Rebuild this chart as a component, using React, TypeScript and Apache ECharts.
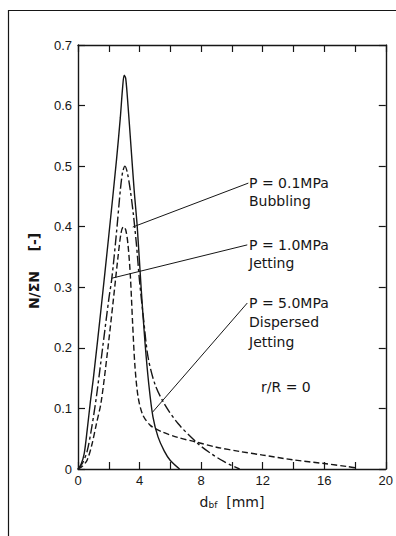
import React, { useEffect, useRef } from "react";
import * as echarts from "echarts";

// Bubble size distributions, r/R = 0 : [d_bf (mm), N/ΣN]
const bubblingData: number[][] = [
  [0, 0], [0.2, 0.008], [0.4, 0.025], [0.6, 0.065], [0.8, 0.11], [1.0, 0.15],
  [1.5, 0.265], [2.0, 0.385], [2.5, 0.51], [2.75, 0.58], [2.9, 0.63], [3.0, 0.65],
  [3.1, 0.645], [3.25, 0.6], [3.45, 0.53], [3.65, 0.46], [3.85, 0.4], [4.1, 0.3],
  [4.35, 0.21], [4.6, 0.14], [4.87, 0.086], [5.2, 0.053], [5.6, 0.03], [6.0, 0.014], [6.6, 0],
];
const jettingData: number[][] = [
  [0, 0], [0.3, 0.01], [0.6, 0.03], [0.9, 0.07], [1.2, 0.12], [1.6, 0.2], [2.0, 0.28],
  [2.2, 0.315], [2.5, 0.39], [2.75, 0.46], [2.9, 0.49], [3.05, 0.5], [3.2, 0.49],
  [3.4, 0.46], [3.6, 0.42], [3.8, 0.37], [4.0, 0.31], [4.25, 0.25], [4.55, 0.185],
  [5.0, 0.14], [5.6, 0.108], [6.5, 0.075], [7.7, 0.044], [8.5, 0.028], [9.5, 0.012], [10.5, 0],
];
const dispersedData: number[][] = [
  [0, 0], [0.3, 0.005], [0.6, 0.015], [0.9, 0.04], [1.2, 0.075], [1.5, 0.11], [1.9, 0.19],
  [2.3, 0.28], [2.6, 0.35], [2.8, 0.39], [2.95, 0.4], [3.1, 0.395], [3.25, 0.37],
  [3.4, 0.32], [3.55, 0.24], [3.7, 0.17], [3.9, 0.12], [4.2, 0.09], [4.7, 0.072],
  [5.4, 0.062], [6.5, 0.052], [7.6, 0.045], [9, 0.036], [10.5, 0.029], [12, 0.023],
  [14, 0.015], [16, 0.009], [17.5, 0.004], [18, 0.002],
];

// leader lines: [label end, curve end] in data units
const leaderLines: number[][][] = [
  [[11.07, 0.472], [3.56, 0.3995]],
  [[11.0, 0.37], [2.2, 0.315]],
  [[11.0, 0.274], [4.85, 0.094]],
];

const xMin = 0, xMax = 20, xStep = 2;
const yMin = 0, yMax = 0.7, yStep = 0.1;

const INK = "#161616";
const NUM_FONT = "'Liberation Sans', Arial, sans-serif";
const ANN_FONT = "'DejaVu Sans', sans-serif";

export default function App() {
  const ref = useRef<HTMLDivElement>(null);
  useEffect(() => {
    if (!ref.current) return;
    const chart = echarts.init(ref.current, null, { renderer: "svg" });
    const axisCommon = {
      axisLine: { show: true, onZero: false, lineStyle: { color: INK, width: 1.4 } },
      axisTick: { show: true, inside: true, length: 7, lineStyle: { color: INK, width: 1.2 } },
      splitLine: { show: false },
    };
    const annText = (x: number, y: number, text: string) => ({
      type: "text", x, y,
      style: { text, fill: INK, font: `14px ${ANN_FONT}`, textAlign: "left", textVerticalAlign: "middle" },
    });
    chart.setOption({
      animation: false,
      backgroundColor: "#fff",
      grid: { left: 78, top: 45, width: 309, height: 424, containLabel: false },
      xAxis: [
        {
          type: "value", min: xMin, max: xMax, interval: xStep, position: "bottom", ...axisCommon,
          axisLabel: {
            color: INK, fontSize: 13, fontFamily: NUM_FONT, margin: 5,
            formatter: (v: number) => (v % 4 === 0 ? String(v) : ""),
          },
        },
        {
          type: "value", min: xMin, max: xMax, interval: xStep, position: "top", ...axisCommon,
          axisLabel: { show: false },
        },
      ],
      yAxis: [
        {
          type: "value", min: yMin, max: yMax, interval: yStep, position: "left", ...axisCommon,
          axisLabel: {
            color: INK, fontSize: 13, fontFamily: NUM_FONT, margin: 6,
            formatter: (v: number) => (v === 0 ? "0" : v.toFixed(1)),
          },
        },
        {
          type: "value", min: yMin, max: yMax, interval: yStep, position: "right", ...axisCommon,
          axisLabel: { show: false },
        },
      ],
      series: [
        {
          type: "line", data: bubblingData, showSymbol: false, smooth: 0.3,
          lineStyle: { color: INK, width: 1.4, type: "solid" },
          markLine: {
            silent: true, symbol: "none", animation: false,
            label: { show: false },
            lineStyle: { color: INK, width: 1, type: "solid" },
            data: leaderLines.map(([a, b]) => [{ coord: a }, { coord: b }]),
          },
        },
        {
          type: "line", data: jettingData, showSymbol: false, smooth: 0.3,
          lineStyle: { color: INK, width: 1.4, type: [10, 3, 3, 3] },
        },
        {
          type: "line", data: dispersedData, showSymbol: false, smooth: 0.3,
          lineStyle: { color: INK, width: 1.4, type: [6, 3] },
        },
      ],
      graphic: [
        {
          type: "rect", shape: { x: 8.5, y: 10.5, width: 420, height: 560 },
          style: { fill: "none", stroke: INK, lineWidth: 1.2 }, silent: true,
        },
        {
          type: "text", x: 34, y: 271, rotation: Math.PI / 2,
          style: {
            text: "N/ΣN    [-]", fill: INK, font: `bold 14px ${ANN_FONT}`,
            textAlign: "center", textVerticalAlign: "middle",
          },
        },
        {
          type: "text", x: 232, y: 502,
          style: {
            text: "{a|d}{b|bf}{a|  [mm]}", textAlign: "center", textVerticalAlign: "middle",
            rich: {
              a: { fontSize: 14, fontFamily: ANN_FONT, fill: INK },
              b: { fontSize: 9, fontFamily: ANN_FONT, fill: INK, padding: [6, 0, 0, 0] },
            },
          },
        },
        annText(249, 183, "P = 0.1MPa"),
        annText(249, 201, "Bubbling"),
        annText(249, 245, "P = 1.0MPa"),
        annText(249, 263, "Jetting"),
        annText(249, 303, "P = 5.0MPa"),
        annText(249, 322, "Dispersed"),
        annText(249, 342, "Jetting"),
        annText(261, 387, "r/R = 0"),
      ],
    });
    return () => chart.dispose();
  }, []);
  return (
    <div
      ref={ref}
      style={{ position: "absolute", left: 0, top: 0, width: 396, height: 536, background: "#fff" }}
    />
  );
}
